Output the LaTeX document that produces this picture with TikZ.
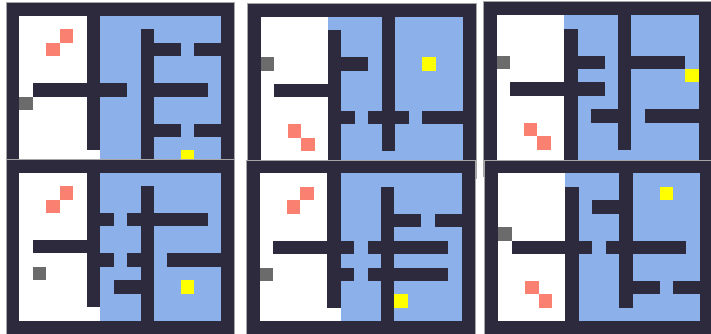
\documentclass[tikz,border=0pt]{standalone}
\definecolor{wallc}{RGB}{45,42,62}
\definecolor{bluec}{RGB}{140,176,234}
\definecolor{redc}{RGB}{250,128,114}
\definecolor{grayc}{RGB}{107,107,107}
\definecolor{yelc}{RGB}{255,255,0}
\tikzset{
  wall/.style={fill=wallc},
  room/.style={fill=white},
  water/.style={fill=bluec},
  goal/.style={fill=yelc},
  agent/.style={fill=grayc},
  key/.style={fill=redc},
  panelgrid/.style={x=13.45pt,y=-13.45pt},
  frameline/.style={draw=gray!70,line width=0.5pt}
}
\newcommand\basepanel[1]{%
  \fill[wall] (0,0) rectangle (17,13);
  \fill[room] (1,1) rectangle (16,12);
  \fill[water] (#1,1) rectangle (16,12);
}
\newcommand\sq[3]{\fill[#1] (#2,#3) rectangle ++(1,1);}
\begin{document}
\begin{tikzpicture}
\useasboundingbox (0,0) rectangle (711pt,-333pt);
\fill[white] (0,0) rectangle (711pt,-333pt);
% Panel 1
\begin{scope}[xshift=6pt,yshift=-2.5pt,panelgrid]
  \basepanel{7}
  \fill[wall] (6,1) rectangle (7,11);
  \fill[wall] (2,6) rectangle (9,7);
  \fill[wall] (10,2) rectangle (11,12);
  \fill[wall] (11,3) rectangle (13,4);
  \fill[wall] (14,3) rectangle (16,4);
  \fill[wall] (11,6) rectangle (15,7);
  \fill[wall] (11,9) rectangle (13,10);
  \fill[wall] (14,9) rectangle (16,10);
  \sq{key}{4}{2}\sq{key}{3}{3}
  \sq{agent}{1}{7}
  \sq{goal}{13}{11}
  \draw[frameline] (0,0) rectangle (17,13);
\end{scope}
% Panel 2
\begin{scope}[xshift=247.3pt,yshift=-3.3pt,panelgrid]
  \basepanel{6}
  \fill[wall] (6,2) rectangle (7,12);
  \fill[wall] (2,6) rectangle (6,7);
  \fill[wall] (7,4) rectangle (9,5);
  \fill[wall] (10,1) rectangle (11,11);
  \fill[wall] (7,8) rectangle (8,9);
  \fill[wall] (9,8) rectangle (12,9);
  \fill[wall] (13,8) rectangle (16,9);
  \sq{agent}{1}{4}
  \sq{key}{3}{9}\sq{key}{4}{10}
  \sq{goal}{13}{4}
  \draw[frameline] (0,0) rectangle (17,13);
\end{scope}
% Panel 3
\begin{scope}[xshift=483.5pt,yshift=-1.7pt,panelgrid]
  \basepanel{6}
  \fill[wall] (6,2) rectangle (7,12);
  \fill[wall] (2,6) rectangle (9,7);
  \fill[wall] (7,4) rectangle (9,5);
  \fill[wall] (11,4) rectangle (15,5);
  \fill[wall] (10,1) rectangle (11,11);
  \fill[wall] (8,8) rectangle (10,9);
  \fill[wall] (12,8) rectangle (16,9);
  \sq{agent}{1}{4}
  \sq{goal}{15}{5}
  \sq{key}{3}{9}\sq{key}{4}{10}
  \draw[frameline] (0,0) rectangle (17,13);
\end{scope}
% Panel 4
\begin{scope}[xshift=6pt,yshift=-159.2pt,panelgrid]
  \basepanel{7}
  \fill[wall] (6,1) rectangle (7,11);
  \fill[wall] (2,6) rectangle (6,7);
  \fill[wall] (7,4) rectangle (8,5);
  \fill[wall] (9,4) rectangle (15,5);
  \fill[wall] (7,7) rectangle (8,8);
  \fill[wall] (9,7) rectangle (10,8);
  \fill[wall] (12,7) rectangle (16,8);
  \fill[wall] (10,2) rectangle (11,12);
  \fill[wall] (8,9) rectangle (10,10);
  \sq{key}{4}{2}\sq{key}{3}{3}
  \sq{agent}{2}{8}
  \sq{goal}{13}{9}
  \draw[frameline] (0,0) rectangle (17,13);
\end{scope}
% Panel 5
\begin{scope}[xshift=246.5pt,yshift=-159.9pt,panelgrid]
  \basepanel{7}
  \fill[wall] (6,1) rectangle (7,11);
  \fill[wall] (2,6) rectangle (8,7);
  \fill[wall] (7,8) rectangle (8,9);
  \fill[wall] (10,2) rectangle (11,12);
  \fill[wall] (11,4) rectangle (13,5);
  \fill[wall] (14,4) rectangle (16,5);
  \fill[wall] (9,6) rectangle (15,7);
  \fill[wall] (9,8) rectangle (15,9);
  \sq{key}{4}{2}\sq{key}{3}{3}
  \sq{agent}{1}{8}
  \sq{goal}{11}{10}
  \draw[frameline] (0,0) rectangle (17,13);
\end{scope}
% Panel 6
\begin{scope}[xshift=484.7pt,yshift=-159.9pt,panelgrid]
  \basepanel{6}
  \fill[wall] (6,2) rectangle (7,12);
  \fill[wall] (2,6) rectangle (8,7);
  \fill[wall] (9,6) rectangle (15,7);
  \fill[wall] (8,3) rectangle (10,4);
  \fill[wall] (10,1) rectangle (11,11);
  \fill[wall] (11,9) rectangle (13,10);
  \fill[wall] (14,9) rectangle (16,10);
  \sq{agent}{1}{5}
  \sq{goal}{13}{2}
  \sq{key}{3}{9}\sq{key}{4}{10}
  \draw[frameline] (0,0) rectangle (17,13);
\end{scope}
\end{tikzpicture}
\end{document}
